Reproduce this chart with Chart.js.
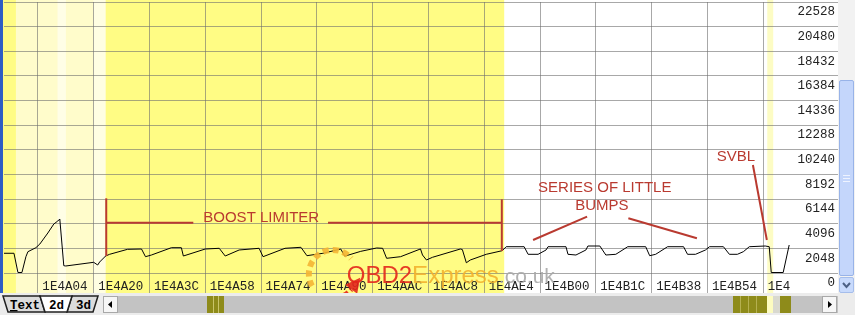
<!DOCTYPE html>
<html lang="en">
<head>
<meta charset="UTF-8">
<title>2d view - boost limiter</title>
<script src="https://cdn.jsdelivr.net/npm/chart.js"></script>
<style>
  html, body { margin: 0; padding: 0; background: #fff; }
  #wrap { position: relative; width: 855px; height: 315px; overflow: hidden; background: #fff; }
  #chart { position: absolute; left: 0; top: 0; }
  #vbar { position: absolute; left: 838px; top: 0; width: 17px; height: 293px; background: #f2f2f2; }
  #thumb { position: absolute; left: 1px; top: 80px; width: 13px; height: 194px; background: #c4d6fb; border: 1px solid #98b3e8; border-radius: 2px; }
  #thumb i { position: absolute; left: 3px; width: 7px; height: 1px; background: #eef3ff; }
  #down { position: absolute; left: 1px; top: 277px; width: 13px; height: 14px; background: #c8dafc; border: 1px solid #a5bdeb; border-radius: 2px; }
  #tabs { position: absolute; left: 0; top: 293px; }
</style>
</head>
<body>
<div id="wrap">
  <canvas id="chart" width="838" height="293"></canvas>
  <div id="vbar">
    <div id="thumb"><i style="top:94px"></i><i style="top:97px"></i><i style="top:100px"></i></div>
    <div id="down">
      <svg width="13" height="14"><path d="M3 5 L6.5 9 L10 5" fill="none" stroke="#4d6185" stroke-width="2"/></svg>
    </div>
  </div>
  <svg id="tabs" width="855" height="22">
    <rect x="0" y="0" width="855" height="22" fill="#ececec"/>
    <rect x="118" y="3" width="720" height="17" fill="#c3c3c3"/>
    <rect x="207" y="3" width="17" height="17" fill="#8e8b1a"/>
    <rect x="213" y="3" width="1" height="17" fill="#c9c46a"/>
    <rect x="218" y="3" width="1" height="17" fill="#c9c46a"/>
    <rect x="733" y="3" width="34" height="17" fill="#8e8b1a"/>
    <rect x="740" y="3" width="1" height="17" fill="#b5b050"/>
    <rect x="748" y="3" width="1" height="17" fill="#b5b050"/>
    <rect x="756" y="3" width="1" height="17" fill="#b5b050"/>
    <rect x="767" y="3" width="6" height="17" fill="#fdfcc0"/>
    <rect x="773" y="3" width="7" height="17" fill="#d9d9cf"/>
    <rect x="780" y="3" width="11" height="17" fill="#8e8b1a"/>
    <rect x="103.5" y="3.5" width="14" height="16" fill="#f6f6f6" stroke="#a8a8a8"/>
    <path d="M108 11.5 L112 8 L112 15 Z" fill="#000"/>
    <rect x="822.5" y="3.5" width="14" height="16" fill="#f6f6f6" stroke="#a8a8a8"/>
    <path d="M832 11.5 L828 8 L828 15 Z" fill="#000"/>
    <polygon points="3,3 40,3 45,19 8,19" fill="#dcdcdc" stroke="#202020" stroke-width="1.5"/>
    <polygon points="72,3 98,3 93,19 67,19" fill="#dcdcdc" stroke="#202020" stroke-width="1.5"/>
    <polygon points="40,3 72,3 67,19 45,19" fill="#ffffff" stroke="#202020" stroke-width="1.5"/>
    <g font-family="Liberation Mono" font-weight="bold" font-size="12.5" fill="#000">
      <text x="10" y="16"><tspan text-decoration="underline">T</tspan>ext</text>
      <text x="49" y="16">2d</text>
      <text x="76" y="16">3d</text>
    </g>
  </svg>
</div>

<script>
  // data: byte offset from the first labelled address, 16-bit value
  const BASE_ADDR = 0x1E4A04;
  const addrOffsets = [-17, -12, -10, -8, -6, -5, -1, 1, 5, 8,
    10, 11, 13, 14, 28, 30, 31, 34, 36, 45,
    52, 54, 57, 67, 72, 73, 84, 91, 94, 101,
    111, 113, 124, 132, 135, 143, 152, 154, 162, 170,
    173, 175, 182, 192, 193, 195, 198, 212, 213, 215,
    217, 225, 233, 235, 244, 246, 251, 255, 256, 265,
    266, 270, 275, 276, 282, 285, 290, 296, 305, 307,
    310, 316, 324, 326, 330, 335, 337, 344, 347, 351,
    354, 357, 365, 367, 368, 374, 377];
  const wordValues = [1640, 1640, 40, 40, 1355, 1770, 2103, 2410, 3325, 4073,
    4322, 4488, 607, 582, 889, 665, 914, 1413, 1554, 1970,
    1995, 1355, 1496, 2103, 2103, 1413, 1995, 2053, 1413, 1912,
    2053, 1355, 2053, 2136, 1438, 1637, 1990, 1400, 1800, 2080,
    2053, 1222, 1355, 2000, 1496, 1081, 1305, 1995, 1950, 850,
    1081, 1554, 1854, 2186, 2186, 1554, 1554, 1912, 2186, 2186,
    1554, 1496, 1912, 2244, 2244, 1496, 1554, 2186, 2186, 1438,
    1554, 2186, 2186, 1554, 1554, 1912, 2186, 2186, 1554, 1554,
    1770, 2186, 2244, 2186, 40, 40, 2327];
  const xTickLabels = ['1E4A04', '1E4A20', '1E4A3C', '1E4A58', '1E4A74', '1E4A90', '1E4AAC',
    '1E4AC8', '1E4AE4', '1E4B00', '1E4B1C', '1E4B38', '1E4B54', '1E4B70'];
  const yTickValues = [0, 2048, 4096, 6144, 8192, 10240, 12288, 14336, 16384, 18432, 20480, 22528];

  // highlighted byte ranges (offsets from BASE_ADDR)
  const bands = [
    { from: -19, to: -11, color: '#fffc84' },
    { from: -11, to: 10, color: '#fffccb' },
    { from: 10, to: 14, color: '#fffee6' },
    { from: 14, to: 28, color: '#fffccb' },
    { from: 28, to: 34, color: '#fffee2' },
    { from: 34, to: 234, color: '#fffc84' },
    { from: 366, to: 369, color: '#fdfcc4' }
  ];

  // red notes added on the screenshot (offset, value)
  const RED = '#b93a30';
  const noteLines = [
    [[34.3, 6209], [34.3, 1413]],
    [[34.3, 4181], [78, 4181]],
    [[145.6, 4181], [232.8, 4181]],
    [[232.8, 6126], [232.8, 1829]],
    [[248.5, 2743], [275.6, 4680]],
    [[296.3, 4547], [330.7, 2884]],
    [[358.8, 8977], [365.8, 2743]]
  ];
  const noteTexts = [
    { text: 'BOOST LIMITER', x: 83, y: 4239 },
    { text: 'SERIES OF LITTLE', x: 251, y: 6757 },
    { text: 'BUMPS', x: 269.6, y: 5237 },
    { text: 'SVBL', x: 340.7, y: 9309 }
  ];

  const GRID = 'rgba(110,110,110,0.6)';
  const points = addrOffsets.map((o, i) => ({ x: BASE_ADDR + o, y: wordValues[i] }));

  const bandsPlugin = {
    id: 'bands',
    beforeDraw(chart) {
      const { ctx, scales: { x } } = chart;
      ctx.save();
      ctx.fillStyle = '#fff';
      ctx.fillRect(0, 0, chart.width, chart.height);
      bands.forEach(b => {
        const x0 = Math.max(3, x.getPixelForValue(BASE_ADDR + b.from));
        const x1 = x.getPixelForValue(BASE_ADDR + b.to);
        ctx.fillStyle = b.color;
        ctx.fillRect(x0, 0, x1 - x0, chart.height);
      });
      ctx.fillStyle = '#2f5ec4';
      ctx.fillRect(0, 0, 3, chart.height);
      ctx.restore();
    }
  };

  const notesPlugin = {
    id: 'notes',
    afterDraw(chart) {
      const { ctx, chartArea, scales: { x, y } } = chart;
      const px = o => x.getPixelForValue(BASE_ADDR + o);
      ctx.save();
      // the last address label is cut by the value column
      const cut = px(377) + 1;
      ctx.fillStyle = '#fff';
      ctx.fillRect(cut, chartArea.bottom + 1, 36, 18);

      ctx.strokeStyle = RED;
      ctx.lineWidth = 2;
      noteLines.forEach(l => {
        ctx.beginPath();
        ctx.moveTo(px(l[0][0]), y.getPixelForValue(l[0][1]));
        ctx.lineTo(px(l[1][0]), y.getPixelForValue(l[1][1]));
        ctx.stroke();
      });
      ctx.fillStyle = RED;
      ctx.font = '15px "Liberation Sans"';
      ctx.textBaseline = 'alphabetic';
      noteTexts.forEach(t => ctx.fillText(t.text, px(t.x), y.getPixelForValue(t.y)));

      // watermark
      const cx = px(148), cy = y.getPixelForValue(-80);
      const rad = d => d * Math.PI / 180;
      ctx.globalAlpha = 0.9;
      ctx.setLineDash([6, 4]);
      ctx.lineWidth = 6;
      ctx.strokeStyle = '#f4b534';
      ctx.beginPath();
      ctx.arc(cx, cy, 24, rad(150), rad(320));
      ctx.stroke();
      ctx.setLineDash([7, 3]);
      ctx.lineWidth = 5;
      ctx.strokeStyle = '#e3261b';
      ctx.beginPath();
      ctx.arc(cx, cy, 24, rad(115), rad(40), true);
      ctx.stroke();
      ctx.setLineDash([]);
      const ax = cx + 24 * Math.cos(rad(32)), ay = cy + 24 * Math.sin(rad(32));
      ctx.fillStyle = '#e3261b';
      ctx.beginPath();
      ctx.moveTo(ax + 7, ay - 9);
      ctx.lineTo(ax - 8, ay - 2);
      ctx.lineTo(ax + 4, ay + 7);
      ctx.closePath();
      ctx.fill();

      let tx = px(155);
      const ty = y.getPixelForValue(-790);
      ctx.font = '24px "Liberation Sans"';
      ctx.fillStyle = '#e3261b';
      ctx.fillText('OBD2', tx, ty);
      tx += ctx.measureText('OBD2').width;
      ctx.fillStyle = '#f2b12e';
      ctx.fillText('Express', tx, ty);
      tx += ctx.measureText('Express').width;
      ctx.font = '21px "Liberation Sans"';
      ctx.fillStyle = '#a9a9a9';
      ctx.fillText('.co.uk', tx, ty);
      ctx.restore();
    }
  };

  const tickFont = { family: 'Liberation Mono', size: 12.5 };

  new Chart(document.getElementById('chart'), {
    type: 'line',
    data: {
      datasets: [{
        data: points,
        borderColor: '#000',
        borderWidth: 1,
        pointRadius: 0,
        tension: 0
      }]
    },
    options: {
      responsive: false,
      animation: false,
      layout: { padding: { left: 4, top: 2, right: 0, bottom: 0 } },
      plugins: { legend: { display: false }, tooltip: { enabled: false } },
      scales: {
        x: {
          type: 'linear',
          min: BASE_ADDR - 17,
          max: BASE_ADDR + 401.5,
          afterBuildTicks: s => { s.ticks = xTickLabels.map(l => ({ value: parseInt(l, 16) })); },
          afterFit: s => { s.height = 20; s.paddingLeft = 0; s.paddingRight = 0; },
          grid: { color: GRID, tickLength: 20 },
          border: { display: false },
          ticks: {
            callback: v => v.toString(16).toUpperCase(),
            autoSkip: false,
            maxRotation: 0,
            labelOffset: 27,
            padding: -14,
            font: tickFont,
            color: '#222'
          }
        },
        y: {
          position: 'right',
          min: 0,
          max: 22528,
          afterBuildTicks: s => { s.ticks = yTickValues.map(v => ({ value: v })); },
          afterFit: s => { s.width = 0; s.paddingTop = 0; s.paddingBottom = 0; },
          grid: { color: GRID, drawTicks: false },
          border: { display: false },
          ticks: {
            mirror: true,
            padding: -3,
            labelOffset: 10,
            callback: v => String(v),
            font: tickFont,
            color: '#222'
          }
        }
      }
    },
    plugins: [bandsPlugin, notesPlugin]
  });
</script>
</body>
</html>
